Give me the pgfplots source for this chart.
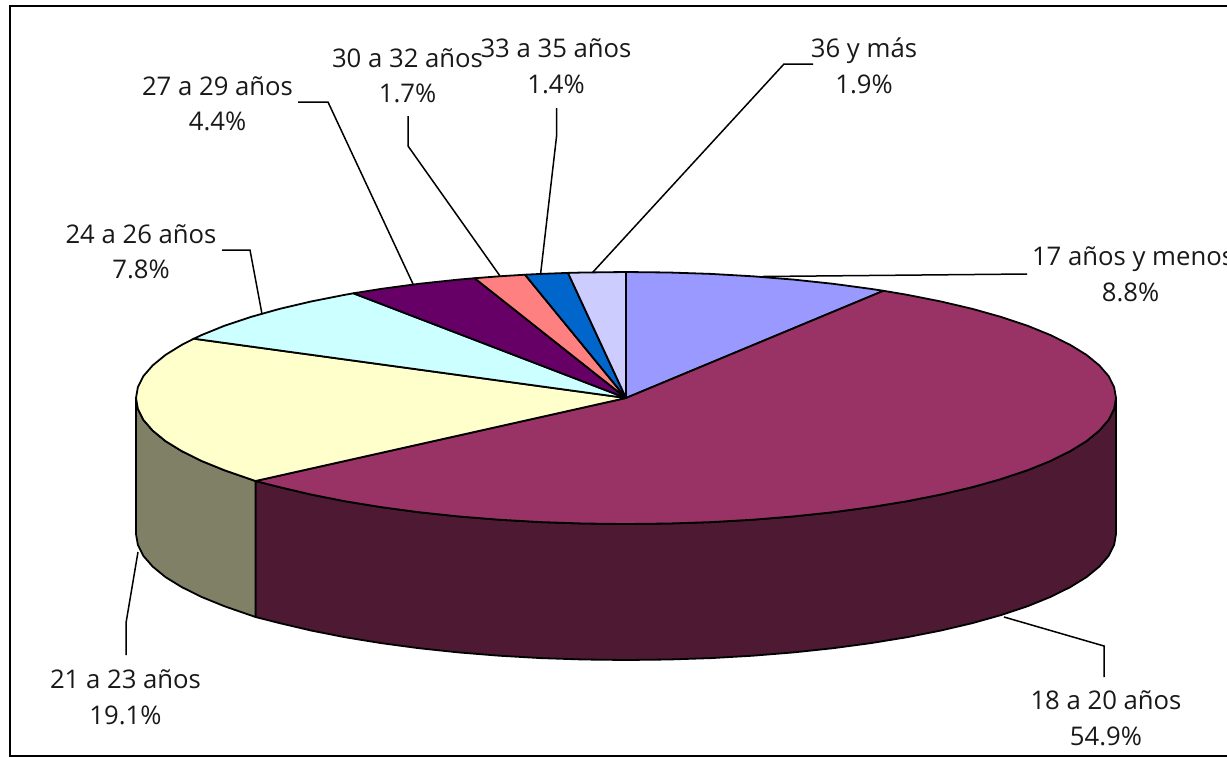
\documentclass[border=0pt]{standalone}
\usepackage{pgfplots}
\pgfplotsset{compat=1.18}
\usepackage{fontspec}
\setmainfont{Open Sans}
\definecolor{c17}{HTML}{9999FF}
\definecolor{c18}{HTML}{993366}
\definecolor{c21}{HTML}{FFFFCC}
\definecolor{c24}{HTML}{CCFFFF}
\definecolor{c27}{HTML}{660066}
\definecolor{c30}{HTML}{FF8080}
\definecolor{c33}{HTML}{0066CC}
\definecolor{c36}{HTML}{CCCCFF}
\definecolor{s18}{HTML}{4D1933}
\definecolor{s21}{HTML}{808066}
\tikzset{
  slice/.style={draw=black,line width=1.8pt,line join=round,mark=none,fill=#1},
  leader/.style={draw=black,line width=1.5pt,mark=none,line join=miter},
  lab/.style={anchor=base,inner sep=0pt,outer sep=0pt,text=black!90,font=\fontsize{25.7}{30}\selectfont}
}
\begin{document}
\begin{tikzpicture}
\useasboundingbox (0,0) rectangle (1227pt,758pt);
\begin{axis}[
  scale only axis,width=1227pt,height=758pt,
  xmin=0,xmax=1227,ymin=0,ymax=758,y dir=reverse,
  hide axis,enlargelimits=false,clip=true]
% frame
\addplot[draw=black,line width=2.4pt,mark=none] coordinates {(1300,6)(10,6)(10,756)(1300,756)};
% side walls
\addplot[slice=s18] coordinates {(1116,398)(1114.1,409)(1108.6,419.9)(1099.3,430.6)(1086.5,441.1)(1070.1,451.2)(1050.3,461)(1027.4,470.3)(1001.3,479)(972.5,487.1)(941,494.5)(907.1,501.2)(871,507.1)(833.1,512.2)(793.6,516.4)(752.8,519.7)(711.1,522.1)(668.7,523.5)(626,524)(583.3,523.5)(540.9,522.1)(499.2,519.7)(458.4,516.4)(418.9,512.2)(381,507.1)(344.9,501.2)(311,494.5)(279.5,487.1)(255.5,481)
(255.5,617)(279.5,623.1)(311,630.5)(344.9,637.2)(381,643.1)(418.9,648.2)(458.4,652.4)(499.2,655.7)(540.9,658.1)(583.3,659.5)(626,660)(668.7,659.5)(711.1,658.1)(752.8,655.7)(793.6,652.4)(833.1,648.2)(871,643.1)(907.1,637.2)(941,630.5)(972.5,623.1)(1001.3,615)(1027.4,606.3)(1050.3,597)(1070.1,587.2)(1086.5,577.1)(1099.3,566.6)(1108.6,555.9)(1114.1,545)(1116,534)} -- cycle;
\addplot[slice=s21] coordinates {(255.5,481)(224.6,470.3)(201.7,461)(181.9,451.2)(165.5,441.1)(152.7,430.6)(143.4,419.9)(137.9,409)(136,398)
(136,534)(137.9,545)(143.4,555.9)(152.7,566.6)(165.5,577.1)(181.9,587.2)(201.7,597)(224.6,606.3)(255.5,617)} -- cycle;
% top faces
\addplot[slice=c17] coordinates {(626,398)(626,272)(668.7,272.5)(711.1,273.9)(752.8,276.3)(793.6,279.6)(833.1,283.8)(871,288.9)(883.5,290.8)} -- cycle;
\addplot[slice=c18] coordinates {(626,398)(883.5,290.8)(907.1,294.8)(941,301.5)(972.5,308.9)(1001.3,317)(1027.4,325.7)(1050.3,335)(1070.1,344.8)(1086.5,354.9)(1099.3,365.4)(1108.6,376.1)(1114.1,387)(1116,398)(1114.1,409)(1108.6,419.9)(1099.3,430.6)(1086.5,441.1)(1070.1,451.2)(1050.3,461)(1027.4,470.3)(1001.3,479)(972.5,487.1)(941,494.5)(907.1,501.2)(871,507.1)(833.1,512.2)(793.6,516.4)(752.8,519.7)(711.1,522.1)(668.7,523.5)(626,524)(583.3,523.5)(540.9,522.1)(499.2,519.7)(458.4,516.4)(418.9,512.2)(381,507.1)(344.9,501.2)(311,494.5)(279.5,487.1)(255.5,481)} -- cycle;
\addplot[slice=c21] coordinates {(626,398)(255.5,481)(224.6,470.3)(201.7,461)(181.9,451.2)(165.5,441.1)(152.7,430.6)(143.4,419.9)(137.9,409)(136,398)(137.9,387)(143.4,376.1)(152.7,365.4)(165.5,354.9)(181.9,344.8)(193.8,338.7)} -- cycle;
\addplot[slice=c24] coordinates {(626,398)(193.8,338.7)(201.7,335)(224.6,325.7)(250.7,317)(279.5,308.9)(311,301.5)(344.9,294.8)(353.4,293.3)} -- cycle;
\addplot[slice=c27] coordinates {(626,398)(353.4,293.3)(381,288.9)(418.9,283.8)(458.4,279.6)(474.6,278.2)} -- cycle;
\addplot[slice=c30] coordinates {(626,398)(474.6,278.2)(499.2,276.3)(525,274.7)} -- cycle;
\addplot[slice=c33] coordinates {(626,398)(525,274.7)(540.9,273.9)(568,272.9)} -- cycle;
\addplot[slice=c36] coordinates {(626,398)(568,272.9)(583.3,272.5)(626,272)} -- cycle;
% leader lines
\addplot[leader] coordinates {(763,276.5)(1027,274)};
\addplot[leader] coordinates {(1004,617)(1104,646)(1104,677)};
\addplot[leader] coordinates {(138,552)(126,623)(126,655)};
\addplot[leader] coordinates {(222,250)(250,250)(262,314)};
\addplot[leader] coordinates {(298,102)(328,102)(413,284)};
\addplot[leader] coordinates {(408,116)(408,146)(500,276)};
\addplot[leader] coordinates {(556.7,108)(556.7,135)(540.7,273)};
\addplot[leader] coordinates {(813,64)(784,64)(593,272)};
% labels
\node[lab,anchor=base west] at (axis cs:1032,265) {17 años y menos};
\node[lab] at (axis cs:1130.5,301) {8.8\%};
\node[lab] at (axis cs:1106,709) {18 a 20 años};
\node[lab] at (axis cs:1106,745) {54.9\%};
\node[lab] at (axis cs:125.5,688) {21 a 23 años};
\node[lab] at (axis cs:125.5,724) {19.1\%};
\node[lab] at (axis cs:141,243) {24 a 26 años};
\node[lab] at (axis cs:141,278) {7.8\%};
\node[lab] at (axis cs:217.5,95) {27 a 29 años};
\node[lab] at (axis cs:217.5,130) {4.4\%};
\node[lab] at (axis cs:407.5,67) {30 a 32 años};
\node[lab] at (axis cs:407.5,102) {1.7\%};
\node[lab] at (axis cs:556,57) {33 a 35 años};
\node[lab] at (axis cs:556,93) {1.4\%};
\node[lab] at (axis cs:864,57) {36 y más};
\node[lab] at (axis cs:864,93) {1.9\%};
\end{axis}
\end{tikzpicture}
\end{document}
